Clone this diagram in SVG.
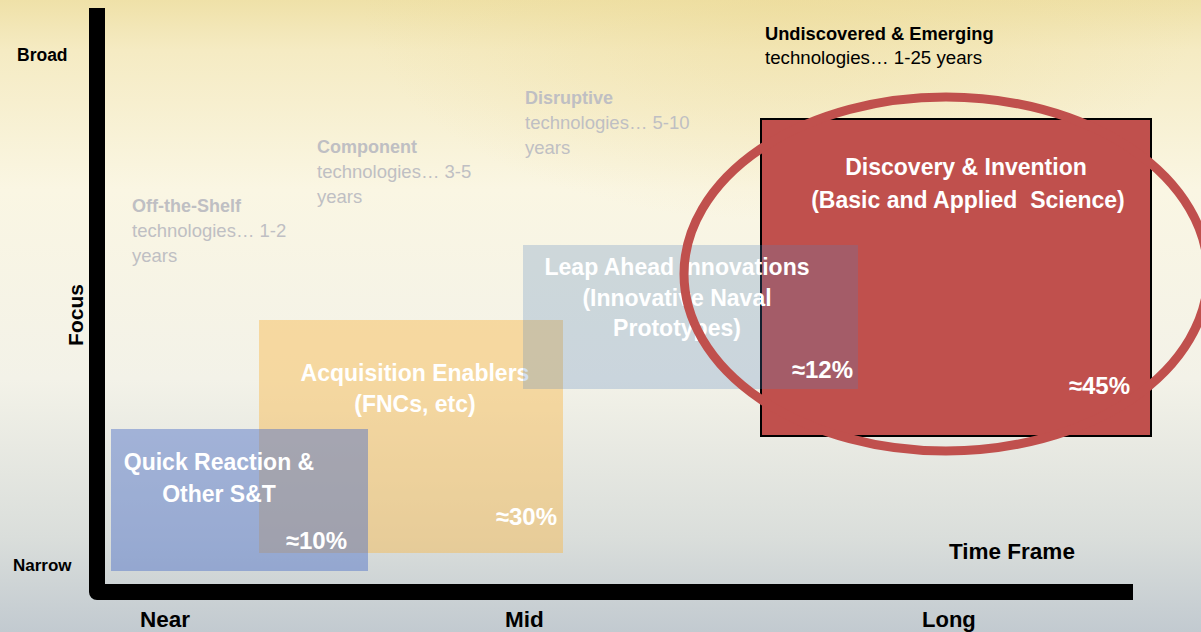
<svg xmlns="http://www.w3.org/2000/svg" width="1201" height="632" viewBox="0 0 1201 632">
  <defs>
    <linearGradient id="bg" x1="0" y1="0" x2="0" y2="1">
      <stop offset="0" stop-color="#efe1a8"/>
      <stop offset="0.08" stop-color="#f5ebc3"/>
      <stop offset="0.3" stop-color="#faf6e3"/>
      <stop offset="0.6" stop-color="#f3f2e8"/>
      <stop offset="0.85" stop-color="#dadedb"/>
      <stop offset="1" stop-color="#c2cad0"/>
    </linearGradient>
    <radialGradient id="glow" cx="0.65" cy="0" r="0.35">
      <stop offset="0" stop-color="#ecd994" stop-opacity="0.45"/>
      <stop offset="1" stop-color="#ecd994" stop-opacity="0"/>
    </radialGradient>
    <style>
      text { font-family: "Liberation Sans", Arial, sans-serif; }
      .axis { font-weight: bold; fill: #000; }
      .gb { font-weight: bold; fill: #bfbfc3; font-size: 18px; }
      .gr { fill: #bfbfc3; font-size: 18.5px; }
      .wt { font-weight: bold; fill: #ffffff; font-size: 23px; text-anchor: middle; white-space: pre; }
      .pct { font-weight: bold; fill: #ffffff; font-size: 24px; text-anchor: end; }
    </style>
  </defs>

  <rect x="0" y="0" width="1201" height="632" fill="url(#bg)"/>
  <rect x="0" y="0" width="1201" height="632" fill="url(#glow)"/>

  <g id="axes">
    <path d="M97,8 V592 H1133" fill="none" stroke="#000" stroke-width="16" stroke-linejoin="round"/>
  </g>

  <g id="axis-labels">
    <text class="axis" x="17" y="61" font-size="17.5">Broad</text>
    <text class="axis" x="13" y="571" font-size="17">Narrow</text>
    <text class="axis" font-size="21" text-anchor="middle" transform="translate(83,315) rotate(-90)">Focus</text>
    <text class="axis" x="140" y="627" font-size="22.5">Near</text>
    <text class="axis" x="505" y="627" font-size="22.5">Mid</text>
    <text class="axis" x="922" y="627" font-size="22">Long</text>
    <text class="axis" x="949" y="559" font-size="22.5">Time Frame</text>
  </g>

  <g id="category-labels">
    <text class="gb" x="132" y="212">Off-the-Shelf</text>
    <text class="gr" x="132" y="237">technologies… 1-2</text>
    <text class="gr" x="132" y="262">years</text>

    <text class="gb" x="317" y="153">Component</text>
    <text class="gr" x="317" y="178">technologies… 3-5</text>
    <text class="gr" x="317" y="203">years</text>

    <text class="gb" x="525" y="104">Disruptive</text>
    <text class="gr" x="525" y="129">technologies… 5-10</text>
    <text class="gr" x="525" y="154">years</text>

    <text x="765" y="40" font-size="18.3" font-weight="bold" fill="#000">Undiscovered &amp; Emerging</text>
    <text x="765" y="64" font-size="18.7" fill="#000">technologies… 1-25 years</text>
  </g>

  <g id="acquisition-enablers">
    <rect x="259" y="320" width="304" height="233" fill="#f9b94a" fill-opacity="0.45"/>
    <text class="wt" x="415" y="381">Acquisition Enablers</text>
    <text class="wt" x="415" y="412">(FNCs, etc)</text>
    <text class="pct" x="557" y="525">≈30%</text>
  </g>

  <g id="quick-reaction">
    <rect x="111" y="429" width="257" height="142" fill="#4a6cc8" fill-opacity="0.45"/>
    <text class="wt" x="219" y="470">Quick Reaction &amp;</text>
    <text class="wt" x="219" y="502">Other S&amp;T</text>
    <text class="pct" x="347" y="549">≈10%</text>
  </g>

  <g id="discovery-invention">
    <rect x="761" y="119" width="390" height="317" fill="#c0504d" stroke="#000" stroke-width="2"/>
    <text class="wt" x="966" y="175" font-size="24">Discovery &amp; Invention</text>
    <text class="wt" x="968" y="208" font-size="24">(Basic and Applied  Science)</text>
    <text class="pct" x="1130" y="394">≈45%</text>
  </g>

  <g id="leap-ahead">
    <rect x="523" y="245" width="335" height="144" fill="#4f81bd" fill-opacity="0.25"/>
    <text class="wt" x="677" y="275">Leap Ahead Innovations</text>
    <text class="wt" x="677" y="306">(Innovative Naval</text>
    <text class="wt" x="677" y="336">Prototypes)</text>
    <text class="pct" x="853" y="378">≈12%</text>
  </g>

  <g id="highlight-ellipse">
    <ellipse cx="946" cy="274" rx="262" ry="177" fill="none" stroke="#c0504d" stroke-width="9"/>
  </g>
</svg>
